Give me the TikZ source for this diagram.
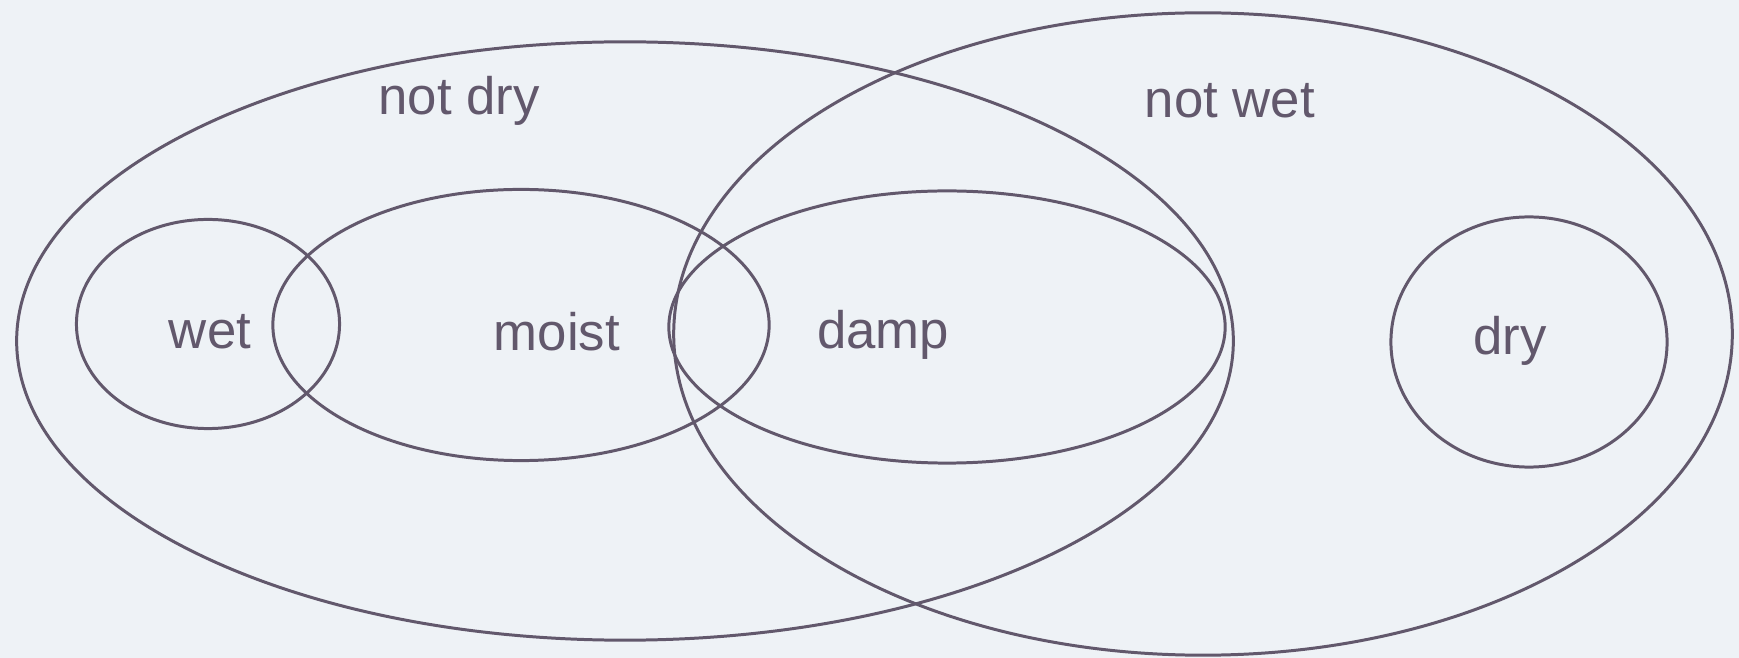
\documentclass[tikz,border=0pt]{standalone}
\usepackage{fontspec}
\setmainfont{Liberation Sans}
\usetikzlibrary{shapes.geometric}
\definecolor{ink}{RGB}{98,88,108}
\definecolor{paper}{RGB}{238,242,246}
\tikzset{
  setring/.style={draw=ink, line width=0.85pt, ellipse, inner sep=0pt, fill=none},
  setlabel/.style={text=ink, font=\fontsize{15}{18}\selectfont, inner sep=0pt, anchor=center}
}
\begin{document}
\begin{tikzpicture}[x=0.01cm,y=-0.01cm]
\fill[paper] (0,0) rectangle (1739,658);
\useasboundingbox (0,0) rectangle (1739,658);
\node[setring, minimum width=12.16cm, minimum height=5.98cm] (notdry) at (625,341) {};
\node[setring, minimum width=10.58cm, minimum height=6.42cm] (notwet) at (1203,334) {};
\node[setring, minimum width=2.63cm, minimum height=2.09cm] (wet) at (208,324) {};
\node[setring, minimum width=4.96cm, minimum height=2.71cm] (moist) at (521,325) {};
\node[setring, minimum width=5.56cm, minimum height=2.72cm] (damp) at (947,327) {};
\node[setring, minimum width=2.76cm, minimum height=2.50cm] (dry) at (1529,342) {};
\node[setlabel] (tnotdry) at (459,101) {not dry};
\node[setlabel] (tnotwet) at (1230,101) {not wet};
\node[setlabel] (twet) at (210,332) {wet};
\node[setlabel] (tmoist) at (557,332) {moist};
\node[setlabel] (tdamp) at (883,335) {damp};
\node[setlabel] (tdry) at (1510,341) {dry};
\end{tikzpicture}
\end{document}
